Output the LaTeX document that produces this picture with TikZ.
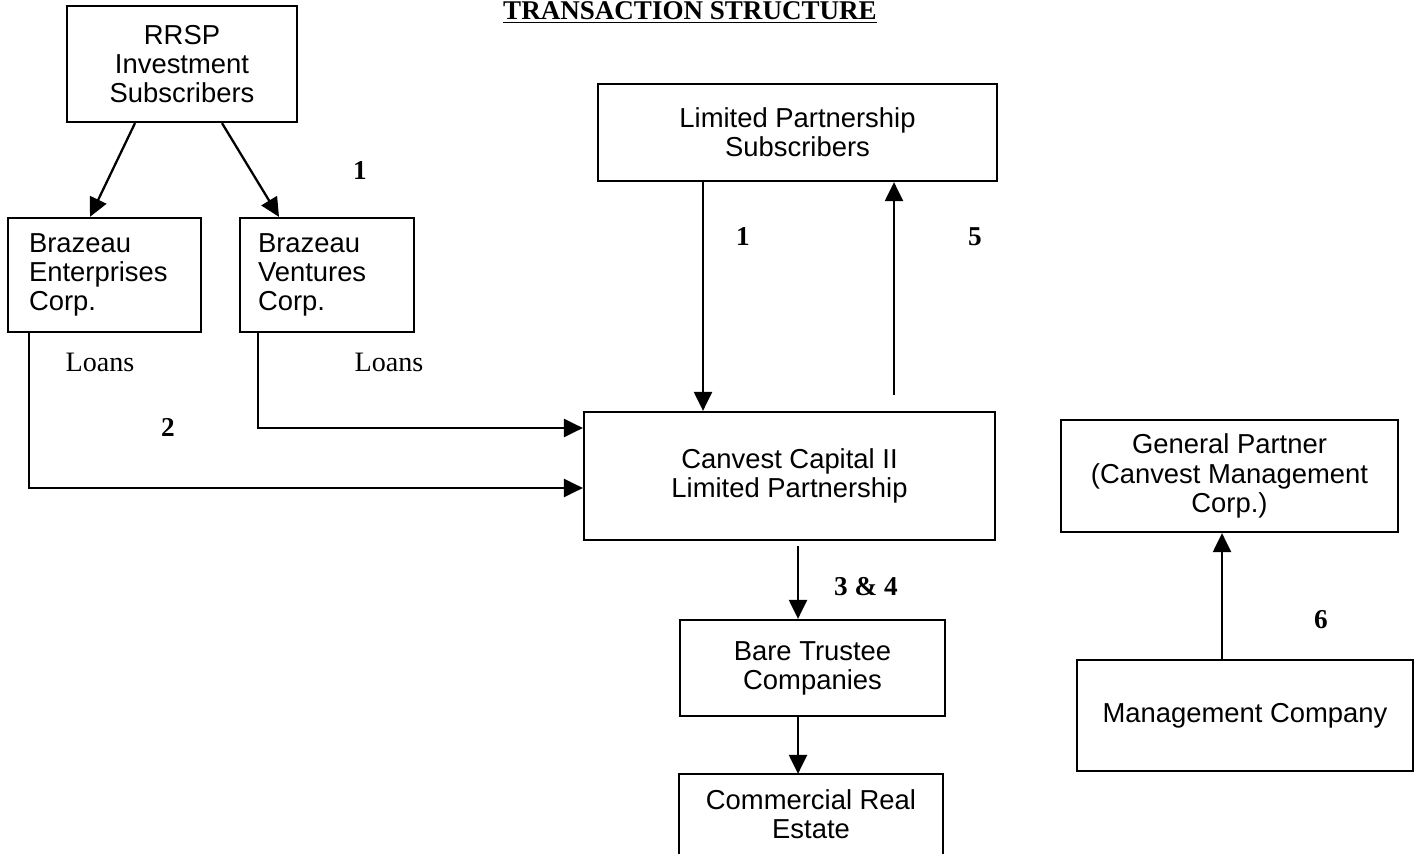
\documentclass[tikz,border=0pt]{standalone}
\usepackage{fontspec}
\setmainfont{Liberation Serif}
\setsansfont{Liberation Sans}
\usepackage{tikz}
\usetikzlibrary{arrows.meta, positioning, calc}

\begin{document}
\begin{tikzpicture}[
    x=0.02cm, y=-0.02cm,
    arr/.style={-{Triangle[length=0.38cm, width=0.36cm]}, line width=1.3pt},
    box/.style={rectangle, draw, line width=1.3pt, align=center, inner sep=0pt,
        font=\sffamily\fontsize{15.6pt}{16.6pt}\selectfont},
    leftbox/.style={box, align=left, inner ysep=0pt},
    num/.style={font=\bfseries\fontsize{15.5pt}{16pt}\selectfont},
    loan/.style={font=\fontsize{16pt}{17pt}\selectfont},
]
\useasboundingbox (0,0) rectangle (1416,854);

% Title
\node[font=\bfseries\fontsize{15.4pt}{16pt}\selectfont, anchor=base] (title) at (690,20) {\underline{TRANSACTION STRUCTURE}};

% --- RRSP side ---
\node[box, minimum width=4.6cm, minimum height=2.32cm] (rrsp) at (182,64) {RRSP\\Investment\\Subscribers};
\node[leftbox, text width=3.02cm, inner xsep=0.42cm, minimum height=2.28cm] (ent) at (104.5,275) {Brazeau\\Enterprises\\Corp.};
\node[leftbox, text width=2.76cm, inner xsep=0.36cm, minimum height=2.28cm] (ven) at (327,275) {Brazeau\\Ventures\\Corp.};

\draw[arr] ($(rrsp.south)+(-47,0)$) -- ($(ent.north)+(-14.5,0)$);
\draw[arr] ($(rrsp.south)+(40,0)$) -- ($(ven.north)+(-48,0)$);
\node[num] (n1a) at (360,171) {1};

% --- Partnership ---
\node[box, minimum width=7.98cm, minimum height=1.94cm] (lps) at (797.5,132.5) {Limited Partnership\\Subscribers};
\node[box, minimum width=8.22cm, minimum height=2.56cm] (canvest) at (789.5,476) {Canvest Capital II\\Limited Partnership};

\coordinate (in1) at ($(canvest.north)+(-86.5,0)$);
\coordinate (out5) at ($(canvest.north)+(104.5,-16)$);
\draw[arr] (lps.south -| in1) -- (in1);
\draw[arr] (out5) -- (lps.south -| out5);
\node[num] (n1b) at (743,237) {1};
\node[num] (n5) at (975,237) {5};

% Loans
\draw[arr] ($(ven.south west)+(19,0)$) |- ($(canvest.west)+(0,-48)$);
\draw[arr] ($(ent.south west)+(22,0)$) |- ($(canvest.west)+(0,12)$);
\node[loan] (loansA) at (100,362) {Loans};
\node[loan] (loansB) at (389,362) {Loans};
\node[num] (n2) at (168,427) {2};

% --- Property ---
\node[box, minimum width=5.3cm, minimum height=1.92cm] (bare) at (812.5,668) {Bare Trustee\\Companies};
\node[box, draw=none, minimum width=5.24cm, minimum height=1.56cm] (com) at (811,814) {Commercial Real\\Estate};
\draw[line width=1.3pt] ($(com.south west)+(0,30)$) |- (com.north) -| ($(com.south east)+(0,30)$);

\coordinate (top34) at ($(canvest.south)+(8.5,5)$);
\draw[arr] (top34) -- (bare.north -| top34);
\draw[arr] (bare.south -| top34) -- (com.north -| top34);
\node[num] (n34) at (866,587) {3 \& 4};

% --- Management ---
\node[box, minimum width=6.74cm, minimum height=2.24cm] (gp) at (1229.5,476) {General Partner\\(Canvest Management\\Corp.)};
\node[box, minimum width=6.72cm, minimum height=2.22cm] (mgmt) at (1245,715.5) {Management Company};

\coordinate (up6) at ($(mgmt.north)+(-23,0)$);
\draw[arr] (up6) -- (gp.south -| up6);
\node[num] (n6) at (1321,620) {6};

\end{tikzpicture}
\end{document}
